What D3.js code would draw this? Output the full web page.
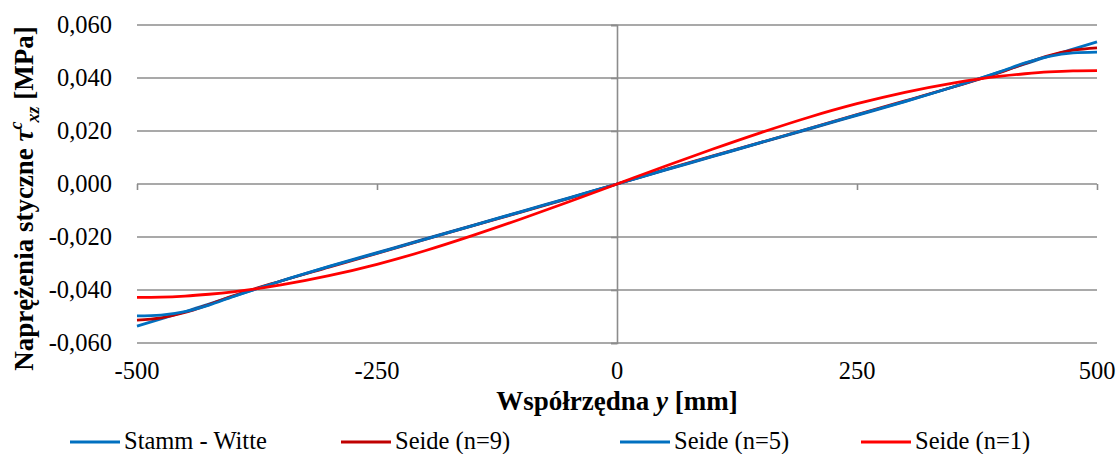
<!DOCTYPE html>
<html>
<head>
<meta charset="utf-8">
<script src="https://cdn.jsdelivr.net/npm/d3@7"></script>
<style>
body { margin: 0; background: #fff; }
#chart { position: relative; width: 1119px; height: 454px; font-family: "Liberation Serif", "Times New Roman", serif; color: #000; }
#chart svg { position: absolute; left: 0; top: 0; }
.lab { position: absolute; white-space: nowrap; line-height: 1; font-family: "Liberation Serif", "Times New Roman", serif; }
</style>
</head>
<body>
<div id="chart"></div>
<script>
// wspolrzedna y [mm]
var yPos = [-500,-475,-450,-425,-400,-350,-300,-250,-200,-150,-100,-50,0,50,100,150,200,250,300,350,400,425,450,475,500];

// naprezenia [MPa]
var stammWitte = [-0.0536,-0.0509,-0.0482,-0.0453,-0.0424,-0.0366,-0.0311,-0.0259,-0.0207,-0.0156,-0.0104,-0.0052,0,0.0052,0.0104,0.0156,0.0207,0.0259,0.0311,0.0366,0.0424,0.0453,0.0482,0.0509,0.0536];
var seide9 = [-0.0514,-0.0505,-0.0485,-0.0455,-0.0422,-0.0366,-0.0314,-0.0262,-0.0209,-0.0157,-0.0106,-0.0054,0,0.0054,0.0106,0.0157,0.0209,0.0262,0.0314,0.0366,0.0422,0.0455,0.0485,0.0505,0.0514];
var seide5 = [-0.0498,-0.0495,-0.0482,-0.0457,-0.0425,-0.0366,-0.0312,-0.0261,-0.0209,-0.0157,-0.0105,-0.0053,0,0.0053,0.0105,0.0157,0.0209,0.0261,0.0312,0.0366,0.0425,0.0457,0.0482,0.0495,0.0498];
var seide1 = [-0.0428,-0.0427,-0.0423,-0.0416,-0.0407,-0.0381,-0.0346,-0.0303,-0.0252,-0.0194,-0.0132,-0.0067,0,0.0067,0.0132,0.0194,0.0252,0.0303,0.0346,0.0381,0.0407,0.0416,0.0423,0.0427,0.0428];

var seriesNames = ["Stamm - Witte", "Seide (n=9)", "Seide (n=5)", "Seide (n=1)"];
var seriesColors = ["#0070C0", "#C00000", "#0070C0", "#FF0000"];
var seriesData = [stammWitte, seide9, seide5, seide1];

var xTicks = [-500, -250, 0, 250, 500];
var yTicks = [-0.06, -0.04, -0.02, 0, 0.02, 0.04, 0.06];

var W = 1119, H = 454;
var margin = {top: 25, right: 22, bottom: 111, left: 137};
var width = W - margin.left - margin.right,
    height = H - margin.top - margin.bottom;

var loc = d3.formatLocale({decimal: ",", thousands: " ", grouping: [3], currency: ["", ""], minus: "-"});
var fmtY = loc.format(".3f");

var box = d3.select("#chart");
var svg = box.append("svg")
  .attr("width", W).attr("height", H);

var g = svg.append("g")
  .attr("transform", "translate(" + margin.left + "," + margin.top + ")");

var x = d3.scaleLinear().domain([-500, 500]).range([0, width]);
var y = d3.scaleLinear().domain([-0.06, 0.06]).range([height, 0]);

var gridColor = "#8c8c8c";

// poziome linie siatki
g.selectAll(".grid")
  .data(yTicks)
  .enter().append("line")
  .attr("x1", 0).attr("x2", width)
  .attr("y1", function(d) { return y(d); })
  .attr("y2", function(d) { return y(d); })
  .attr("stroke", gridColor)
  .attr("stroke-width", 1.6);

// os pionowa w y=0
var axY = g.append("g")
  .attr("transform", "translate(" + x(0) + ",0)")
  .call(d3.axisLeft(y).tickValues(yTicks).tickSize(6).tickFormat(""));
axY.select(".domain").attr("stroke", gridColor).attr("stroke-width", 1.6);
axY.selectAll(".tick line").attr("stroke", gridColor).attr("stroke-width", 1.6);

// os pozioma w 0
var axX = g.append("g")
  .attr("transform", "translate(0," + y(0) + ")")
  .call(d3.axisBottom(x).tickValues(xTicks).tickSize(6).tickFormat(""));
axX.select(".domain").remove();
axX.selectAll(".tick line").attr("stroke", gridColor).attr("stroke-width", 1.6);

// linie serii
var line = d3.line()
  .x(function(d) { return x(d[0]); })
  .y(function(d) { return y(d[1]); })
  .curve(d3.curveMonotoneX);

seriesData.forEach(function(vals, i) {
  g.append("path")
    .datum(yPos.map(function(p, j) { return [p, vals[j]]; }))
    .attr("fill", "none")
    .attr("stroke", seriesColors[i])
    .attr("stroke-width", 2.8)
    .attr("d", line);
});

// napisy jako html (czcionka szeryfowa)
function label(txt, px, baseline, size, anchor) {
  var bw = 400;
  var left = anchor === "end" ? px - bw : (anchor === "middle" ? px - bw / 2 : px);
  return box.append("div")
    .attr("class", "lab")
    .style("left", left + "px")
    .style("top", (baseline - 0.8375 * size) + "px")
    .style("width", bw + "px")
    .style("text-align", anchor === "end" ? "right" : (anchor === "middle" ? "center" : "left"))
    .style("font-size", size + "px")
    .text(txt);
}

// etykiety osi Y
yTicks.forEach(function(d) {
  label(fmtY(d), 112, margin.top + y(d) + 8.2, 24.5, "end");
});

// etykiety osi X
xTicks.forEach(function(d) {
  label(d, margin.left + x(d), 380, 24.5, "middle");
});

// tytul osi X
var xt = label("", margin.left + x(0), 411, 27, "middle").style("font-weight", "bold");
xt.append("span").text("Współrzędna ");
xt.append("span").style("font-style", "italic").text("y");
xt.append("span").text(" [mm]");

// tytul osi Y
var ytSize = 27, ytW = 500;
var yt = box.append("div")
  .attr("class", "lab")
  .style("left", (24 - ytW / 2) + "px")
  .style("top", (margin.top + y(0) + 14.5 - ytSize / 2) + "px")
  .style("width", ytW + "px")
  .style("height", ytSize + "px")
  .style("text-align", "center")
  .style("font-size", ytSize + "px")
  .style("font-weight", "bold")
  .style("transform", "rotate(-90deg)");
yt.append("span").text("Naprężenia styczne ");
yt.append("span").style("font-style", "italic").text("τ");
yt.append("span").style("font-style", "italic").style("font-size", "18px")
  .style("position", "relative").style("top", "-11px").text("c");
yt.append("span").style("font-style", "italic").style("font-size", "18px")
  .style("position", "relative").style("top", "6px").style("margin-left", "-1px").text("xz");
yt.append("span").text(" [MPa]");

// legenda
var legX = [70, 341, 620, 861];
svg.selectAll(".leg")
  .data(seriesNames)
  .enter().append("line")
  .attr("x1", function(d, i) { return legX[i]; })
  .attr("x2", function(d, i) { return legX[i] + 50; })
  .attr("y1", 442).attr("y2", 442)
  .attr("stroke", function(d, i) { return seriesColors[i]; })
  .attr("stroke-width", 2.8);
seriesNames.forEach(function(d, i) {
  label(d, legX[i] + 54, 450, 24.5, "start");
});
</script>
</body>
</html>
